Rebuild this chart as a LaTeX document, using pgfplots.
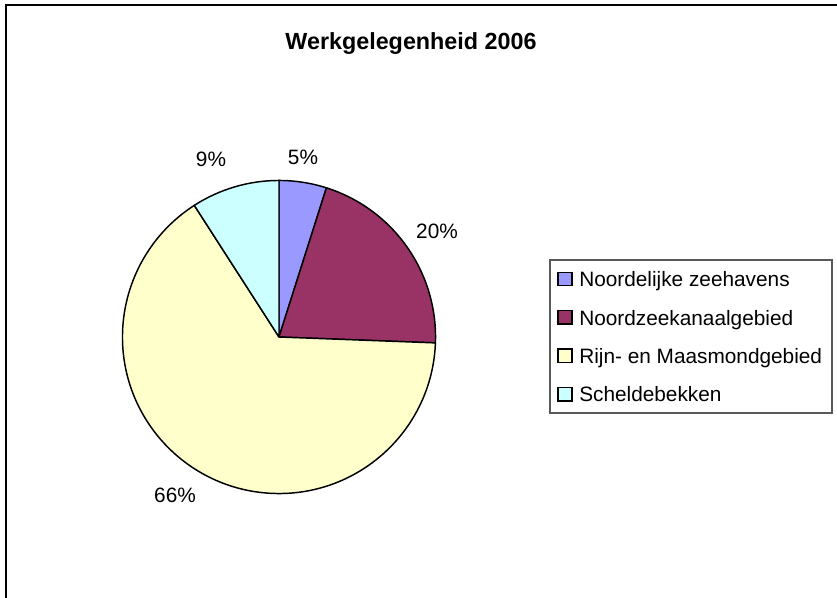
\documentclass[border=0pt]{standalone}
\usepackage{pgfplots}
\pgfplotsset{compat=1.18}
\usepackage{pgfplotstable}
\usepackage{fontspec}
\setmainfont{Liberation Sans}
\definecolor{cA}{HTML}{9999FF}
\definecolor{cB}{HTML}{993366}
\definecolor{cC}{HTML}{FFFFCC}
\definecolor{cD}{HTML}{CCFFFF}
\newcommand\labelfont{\fontsize{15.6}{18}\selectfont}
\pgfplotstableread[col sep=comma]{
name,value,label,lx,ly,color
Noordelijke zeehavens,4.9,5,303,157,cA
Noordzeekanaalgebied,20.7,20,437,231,cB
Rijn- en Maasmondgebied,65.3,66,175,495,cC
Scheldebekken,9.1,9,211,159,cD
}\pietable
\begin{document}
\begin{tikzpicture}
\begin{axis}[
  at={(0,0)}, anchor=south west,
  scale only axis, width=627.75pt, height=448.5pt,
  xmin=0, xmax=837, ymin=0, ymax=598, y dir=reverse,
  hide axis, clip=false]
% frame
\draw[black, line width=1.2pt] (axis cs:6,5) rectangle (axis cs:860,620);
% title
\node[font=\bfseries\fontsize{17.5}{20}\selectfont] at (axis cs:411,44) {Werkgelegenheid 2006};
% legend box
\draw[black!65, line width=0.8pt] (axis cs:550,260) rectangle (axis cs:832,413);
\def\cum{0}
\pgfplotsforeachungrouped \i in {0,...,3}{%
  \pgfplotstablegetelem{\i}{value}\of\pietable \let\v\pgfplotsretval
  \pgfplotstablegetelem{\i}{color}\of\pietable \let\c\pgfplotsretval
  \pgfplotstablegetelem{\i}{label}\of\pietable \let\lab\pgfplotsretval
  \pgfplotstablegetelem{\i}{lx}\of\pietable \let\lx\pgfplotsretval
  \pgfplotstablegetelem{\i}{ly}\of\pietable \let\ly\pgfplotsretval
  \pgfplotstablegetelem{\i}{name}\of\pietable \let\nm\pgfplotsretval
  \pgfmathsetmacro\a{90-3.6*\cum}%
  \pgfmathsetmacro\b{90-3.6*(\cum+\v)}%
  \pgfmathsetmacro\yc{279+38.4*\i}%
  \pgfmathsetmacro\yt{\yc-6.7}%
  \pgfmathsetmacro\yb{\yc+6.7}%
  \pgfmathsetmacro\ybase{\yc+7.6}%
  \edef\tmp{%
    \noexpand\filldraw[fill=\c, draw=black, line width=1.1pt, line join=round]
      (axis cs:279,337) -- ++(\a:117.4pt) arc[start angle=\a, end angle=\b, radius=117.4pt] -- cycle;
    \noexpand\node[font=\noexpand\labelfont, inner sep=0pt] at (axis cs:\lx,\ly) {\lab\noexpand\%};
    \noexpand\filldraw[fill=\c, draw=black, line width=1.1pt] (axis cs:558,\yt) rectangle (axis cs:572,\yb);
    \noexpand\node[font=\noexpand\labelfont, inner sep=0pt, anchor=base west] at (axis cs:579,\ybase) {\nm};
  }%
  \tmp
  \pgfmathsetmacro\cum{\cum+\v}%
}
\end{axis}
\pgfresetboundingbox
\path[use as bounding box] (0,0) rectangle (627.75pt,448.5pt);
\end{tikzpicture}
\end{document}
